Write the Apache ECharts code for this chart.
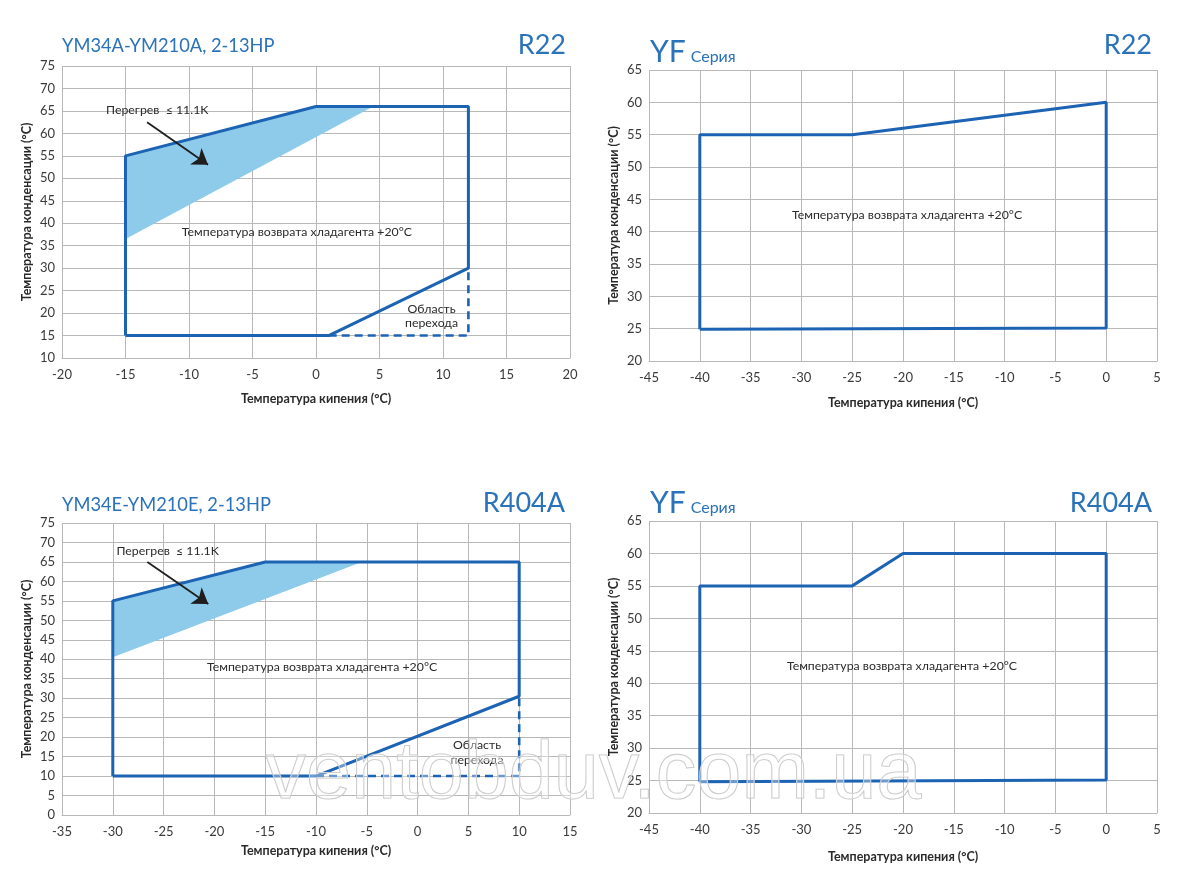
<!DOCTYPE html>
<html><head><meta charset="utf-8">
<script src="https://cdn.jsdelivr.net/npm/echarts@6/dist/echarts.min.js"></script>
<style>html,body{margin:0;padding:0;background:#fff}#c{width:1193px;height:885px}</style>
</head><body><div id="c"></div>
<script>
// ---------- Data ----------
// Chart 1: YM34A-YM210A, R22
const c1XTicks = [-20, 20];
const c1YTicks = [10, 75];
const c1Envelope = [[-15,15],[-15,55],[0,66],[12,66],[12,30],[1,15],[-15,15]];
const c1Transition = [[1,15],[12,15],[12,30]];
const c1Superheat = [[-15,36.5],[-15,55],[0,66],[4.5,66]];
const c1Arrow = [[-13.3,62.5],[-8.5,53]];
const c1Texts = [[-12.5,65.2,'Перегрев  ≤ 11.1K'],[-1.5,38,'Температура возврата хладагента +20°C'],[9.1,19.3,'Область\nперехода']];

// Chart 2: YF, R22
const c2XTicks = [-45, 5];
const c2YTicks = [20, 65];
const c2Envelope = [[-40,24.9],[-40,55],[-25,55],[0,60],[0,25.1],[-40,24.9]];
const c2Texts = [[-19.6,42.6,'Температура возврата хладагента +20°C']];

// Chart 3: YM34E-YM210E, R404A
const c3XTicks = [-35, 15];
const c3YTicks = [0, 75];
const c3Envelope = [[-30,10],[-30,55],[-15,65],[10,65],[10,30.5],[-10,10],[-30,10]];
const c3Transition = [[-10,10],[10,10],[10,30.5]];
const c3Superheat = [[-30,40.5],[-30,55],[-15,65],[-5.5,65]];
const c3Arrow = [[-26.6,65],[-20.6,54.2]];
const c3Texts = [[-24.6,67.8,'Перегрев  ≤ 11.1K'],[-9.4,38,'Температура возврата хладагента +20°C'],[5.85,16,'Область\nперехода']];

// Chart 4: YF, R404A
const c4XTicks = [-45, 5];
const c4YTicks = [20, 65];
const c4Envelope = [[-40,24.8],[-40,55],[-25,55],[-20,60],[0,60],[0,25.1],[-40,24.8]];
const c4Texts = [[-20.1,42.6,'Температура возврата хладагента +20°C']];

const xName = 'Температура кипения (°C)';
const yName = 'Температура конденсации (°C)';

// ---------- Styles ----------
const BLUE = '#1c63b3';
const TITLE = '#2a72ba';
const SHADE = '#8ecbea';
const GRID = '#b8b8b8';
const FONT = 'Lato, "Open Sans", sans-serif';

const grids = [
  {left:62, top:66, width:508, height:292},
  {left:649, top:70, width:508, height:291},
  {left:62, top:523, width:508, height:292},
  {left:649, top:521, width:508, height:292}
];
const xTicks = [c1XTicks, c2XTicks, c3XTicks, c4XTicks];
const yTicks = [c1YTicks, c2YTicks, c3YTicks, c4YTicks];
const xGaps = [34, 35, 29, 37];

function axisCommon(){
  return {
    type:'value', interval:5,
    axisLine:{show:true, lineStyle:{color:GRID, width:1}},
    axisTick:{show:false},
    splitLine:{show:true, lineStyle:{color:GRID, width:1}},
    nameLocation:'middle',
    nameTextStyle:{color:'#2a2a2a', fontSize:12.5, fontFamily:FONT, fontWeight:'bold'}
  };
}
const xAxes = grids.map((g,i)=>Object.assign(axisCommon(), {gridIndex:i, min:xTicks[i][0], max:xTicks[i][1], name:xName, nameGap:xGaps[i], axisLabel:{color:'#3a3a3a', fontSize:13, fontFamily:FONT, margin:10}}));
const yAxes = grids.map((g,i)=>Object.assign(axisCommon(), {gridIndex:i, min:yTicks[i][0], max:yTicks[i][1], name:yName, nameGap:29, axisLabel:{color:'#3a3a3a', fontSize:13, fontFamily:FONT, margin:7}}));

function envelope(i, pts){
  return {type:'line', xAxisIndex:i, yAxisIndex:i, data:pts, symbol:'none', z:5,
    lineStyle:{color:BLUE, width:3}, silent:true, animation:false};
}
function dashed(i, pts){
  return {type:'line', xAxisIndex:i, yAxisIndex:i, data:pts, symbol:'none', z:4,
    lineStyle:{color:BLUE, width:2.6, type:[8,5]}, silent:true, animation:false};
}
function polygon(i, pts){
  return {type:'custom', xAxisIndex:i, yAxisIndex:i, data:pts, encode:{x:0,y:1}, z:2, silent:true, animation:false,
    renderItem:(params, api)=> params.dataIndex===0 ? {type:'polygon', shape:{points:pts.map(p=>api.coord(p))}, style:{fill:SHADE}} : null};
}
function arrow(i, pts){
  return {type:'lines', coordinateSystem:'cartesian2d', xAxisIndex:i, yAxisIndex:i, z:6, silent:true, animation:false,
    data:[{coords:pts}], symbol:['none','arrow'], symbolSize:[0,15], lineStyle:{color:'#1e1e1e', width:1.8, opacity:1}};
}
function texts(i, items){
  return {type:'custom', xAxisIndex:i, yAxisIndex:i, data:items.map(t=>[t[0],t[1]]), encode:{x:0,y:1}, z:7, silent:true, animation:false,
    renderItem:(params, api)=>{
      const p = api.coord([items[params.dataIndex][0], items[params.dataIndex][1]]);
      return {type:'text', x:p[0], y:p[1], style:{text:items[params.dataIndex][2], fill:'#2a2a2a', font:'12.3px '+FONT, align:'center', verticalAlign:'middle', lineHeight:14.5}};
    }};
}

const series = [
  polygon(0, c1Superheat), envelope(0, c1Envelope), dashed(0, c1Transition), arrow(0, c1Arrow), texts(0, c1Texts),
  envelope(1, c2Envelope), texts(1, c2Texts),
  polygon(2, c3Superheat), envelope(2, c3Envelope), dashed(2, c3Transition), arrow(2, c3Arrow), texts(2, c3Texts),
  envelope(3, c4Envelope), texts(3, c4Texts)
];

const tStyle = (size)=>({color:TITLE, fontSize:size, fontWeight:'normal', fontFamily:FONT});
const yfRich = {a:{color:TITLE, fontSize:30, fontFamily:FONT, fontWeight:'normal'}, b:{color:TITLE, fontSize:16, fontFamily:FONT, fontWeight:'normal', padding:[10,0,0,0]}};
const title = [
  {text:'YM34A-YM210A, 2-13HP', left:62, top:37, padding:0, textStyle:tStyle(18.3)},
  {text:'R22', right:627, top:32, padding:0, textStyle:tStyle(27)},
  {text:'{a|YF} {b|Серия}', left:650, top:37, padding:0, textStyle:{rich:yfRich}},
  {text:'R22', right:41, top:32, padding:0, textStyle:tStyle(27)},
  {text:'YM34E-YM210E, 2-13HP', left:62, top:496, padding:0, textStyle:tStyle(18.3)},
  {text:'R404A', right:628, top:490, padding:0, textStyle:tStyle(27)},
  {text:'{a|YF} {b|Серия}', left:650, top:488, padding:0, textStyle:{rich:yfRich}},
  {text:'R404A', right:41, top:490, padding:0, textStyle:tStyle(27)}
];

const chart = echarts.init(document.getElementById('c'), null, {renderer:'canvas'});
chart.setOption({
  backgroundColor:'#ffffff',
  animation:false,
  title,
  grid:grids,
  xAxis:xAxes,
  yAxis:yAxes,
  series,
  graphic:[{type:'text', left:265, top:735, z:100, silent:true,
    style:{text:'ventobduv.com.ua', font:'81px "Liberation Sans", Arial, sans-serif', fill:'rgba(255,255,255,0.35)', stroke:'#c4c4c4', lineWidth:1.1}}]
});
</script></body></html>
